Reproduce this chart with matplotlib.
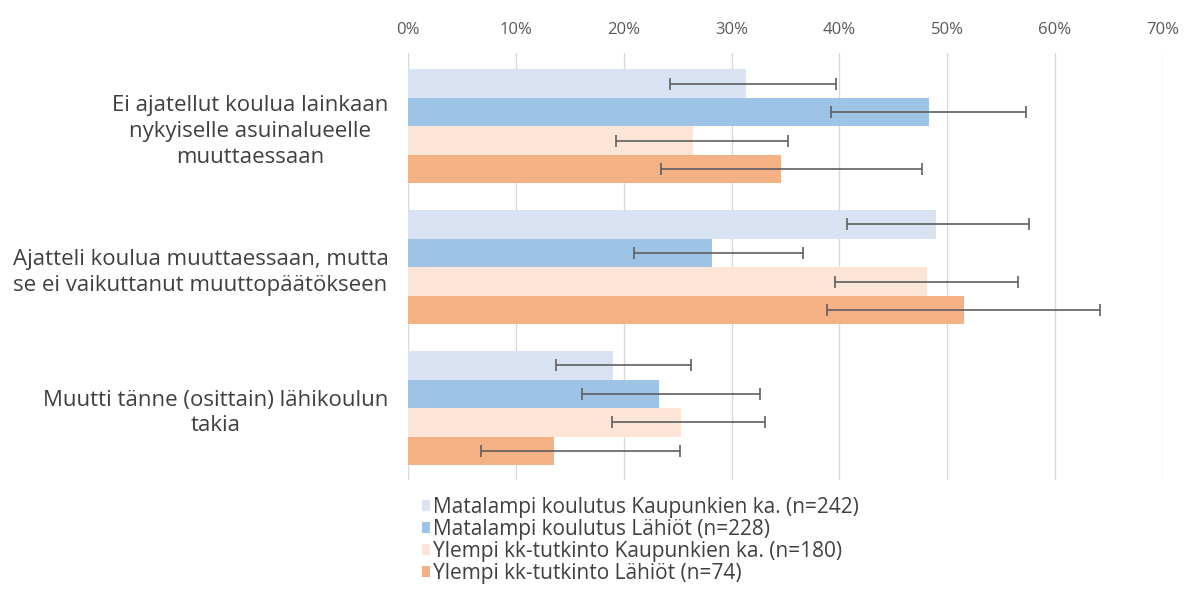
import numpy as np
import matplotlib
matplotlib.use("Agg")
import matplotlib.pyplot as plt
from matplotlib.ticker import FuncFormatter

plt.rcParams['font.family'] = ['Open Sans', 'DejaVu Sans']

categories = [
    "Ei ajatellut koulua lainkaan\nnykyiselle asuinalueelle\nmuuttaessaan",
    "Ajatteli koulua muuttaessaan, mutta\nse ei vaikuttanut muuttopäätökseen",
    "Muutti tänne (osittain) lähikoulun\ntakia",
]
series_names = [
    "Matalampi koulutus Kaupunkien ka. (n=242)",
    "Matalampi koulutus Lähiöt (n=228)",
    "Ylempi kk-tutkinto Kaupunkien ka. (n=180)",
    "Ylempi kk-tutkinto Lähiöt (n=74)",
]
# percentages per series, one value per category
values = [
    [31.3, 49.0, 19.0],
    [48.3, 28.2, 23.3],
    [26.4, 48.1, 25.3],
    [34.6, 51.6, 13.5],
]
err_low = [
    [24.3, 40.7, 13.7],
    [39.2, 21.0, 16.1],
    [19.3, 39.6, 18.9],
    [23.5, 38.9, 6.8],
]
err_high = [
    [39.7, 57.6, 26.2],
    [57.3, 36.6, 32.6],
    [35.2, 56.6, 33.1],
    [47.7, 64.2, 25.2],
]
colors = ["#dae3f3", "#9dc3e6", "#fce4d6", "#f4b183"]

fig = plt.figure(figsize=(11.87, 5.97), dpi=100)
ax = fig.add_axes([0.3437, 0.196, 0.636, 0.715])

y = np.arange(len(categories))
bar_h = 0.2025
for i, name in enumerate(series_names):
    pos = y - 1.5 * bar_h + i * bar_h
    vals = np.array(values[i])
    lo = vals - np.array(err_low[i])
    hi = np.array(err_high[i]) - vals
    ax.barh(pos, vals, height=bar_h, color=colors[i], label=name, zorder=2)
    ax.errorbar(vals, pos, xerr=[lo, hi], fmt='none', ecolor='#5f5f5f',
                elinewidth=1.2, capsize=4, capthick=1.2, zorder=3)

ax.set_xlim(0, 70)
ax.set_ylim(2.51, -0.52)
ax.set_xticks(np.arange(0, 71, 10))
ax.xaxis.set_major_formatter(FuncFormatter(lambda v, p: f"{int(v)}%"))
ax.xaxis.tick_top()
ax.tick_params(axis='x', length=0, labelsize=12, labelcolor='#595959', pad=11)
ax.grid(axis='x', color='#d9d9d9', linewidth=1, zorder=0)
for s in ax.spines.values():
    s.set_visible(False)

ax.set_yticks(y)
ax.set_yticklabels(categories, fontsize=16, color='#404040',
                   multialignment='center', linespacing=1.3)
ax.tick_params(axis='y', length=0, pad=14)

leg = ax.legend(loc='upper left', bbox_to_anchor=(0.018, -0.04), frameon=False,
                fontsize=15, handlelength=0.42, handleheight=0.42,
                handletextpad=0.12, labelspacing=0.04, borderaxespad=0,
                borderpad=0)
for t in leg.get_texts():
    t.set_color('#404040')

fig.savefig("out.png", dpi=100)
